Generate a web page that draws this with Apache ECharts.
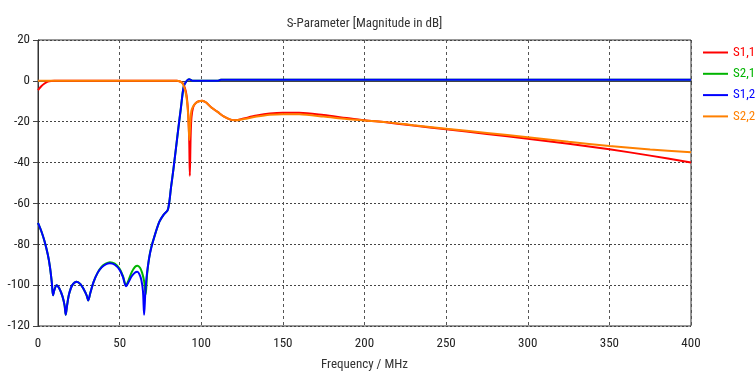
<!DOCTYPE html>
<html>
<head>
<meta charset="utf-8">
<script src="https://cdn.jsdelivr.net/npm/echarts@6/dist/echarts.min.js"></script>
<style>html,body{margin:0;padding:0;background:#fff;}#c{width:756px;height:372px;}</style>
</head>
<body>
<div id="c"></div>
<script>
var xTicks = [0, 50, 100, 150, 200, 250, 300, 350, 400];
var yTicks = [-120, -100, -80, -60, -40, -20, 0, 20];
var seriesNames = ['S1,1', 'S2,1', 'S1,2', 'S2,2'];

var s11Freq = [0,2,4,6,8,10,85,87,88.5,89.5,90.5,91.3,92,92.6,93,93.5,94,95,96.5,98.5,100.5,103,106,110,114,118,121,126,134,142,150,160,175,189,200,213,230,250,275,300,325,350,375,400];
var s11Db   = [-4.5,-2.6,-1.3,-0.4,-0.05,0,0,-0.3,-1,-2.5,-5,-9,-16,-28,-46.5,-27,-18,-13,-11,-10,-9.7,-10.6,-12.9,-15.2,-17.5,-19,-19.3,-18.4,-17,-16,-15.6,-15.6,-16.7,-18.2,-19.3,-20.3,-21.9,-23.7,-26,-28.3,-30.8,-33.5,-36.6,-40];

var s21Freq = [0,2,4,6,7.3,8.5,9.2,10,11.4,13,15,16.3,17,17.8,19,21,23.7,26,28,29.8,30.8,32,34,36.5,39,41.5,44,47,50,52,53.9,55.5,57.5,59.5,61,62.5,63.8,65,66,66.8,68,69.5,71,74.3,77,79.6,81.5,83,84.5,86,87.5,89.2,90.8,92.5,94.5,97,110,112,400];
var s21Db   = [-69.5,-73.5,-78.5,-85,-91,-99,-105,-102.5,-100,-101.5,-105.5,-110,-114.5,-110,-104.5,-100,-98.3,-99.5,-102,-105,-107.5,-104,-98.5,-94,-91,-89.5,-88.8,-89.5,-92,-95.5,-100,-97.5,-93.5,-91,-90.5,-91.5,-94,-98,-104.5,-95,-87,-81,-77,-69,-65.5,-63,-52,-43,-33,-23,-13.5,-3,-0.3,0.8,0.1,0,0,0.5,0.5];

var s12Freq = [0,2,4,6,7.3,8.5,9.2,10,11.4,13,15,16.3,17,17.8,19,21,23.7,26,28,29.8,30.8,32,34,36.5,39,41.5,44,47,50,52,53.9,55.5,57.5,59.5,60.8,62,63.3,64.3,65,65.8,66.8,68.6,71,74.3,77,79.6,81.5,83,84.5,86,87.5,89.2,90.8,92.5,94.5,97,110,112,400];
var s12Db   = [-69.5,-73.5,-78.5,-85,-91,-99,-105,-102.5,-100,-101.5,-105.5,-110,-114.5,-110,-104.5,-100,-98.3,-99.5,-102,-105,-107.5,-104,-98.5,-94,-91.3,-89.8,-89.3,-90,-92.5,-96,-100.5,-98.5,-95.5,-93.8,-93.5,-94.5,-97.5,-103,-114.5,-103,-94,-84.5,-77,-69,-65.5,-63,-52,-43,-33,-23,-13.5,-3,-0.3,0.8,0.1,0,0,0.5,0.5];

var s22Freq = [0,85,87,88.5,89.5,90.5,91.3,92,92.7,93.3,94,95,96.5,98.5,100.5,103,106,110,114,118,121,126,134,142,150,160,175,189,200,213,230,250,275,300,325,350,375,400];
var s22Db   = [0,0,-0.3,-1.2,-3,-6,-10,-17,-29,-20,-14.5,-12.5,-11,-10,-9.7,-10.6,-12.9,-15.2,-17.5,-19,-19.3,-18.7,-17.5,-16.6,-16.3,-16.4,-17.5,-18.7,-19.4,-20.2,-21.7,-23.4,-25.5,-27.6,-29.8,-31.9,-33.6,-35];

var colors = ['#ff0000', '#00b400', '#0000ff', '#ff8000'];

function pairs(f, v) { return f.map(function (x, i) { return [x, v[i]]; }); }
var allF = [s11Freq, s21Freq, s12Freq, s22Freq];
var allV = [s11Db, s21Db, s12Db, s22Db];

var FONT = '"Roboto Condensed", "DejaVu Sans Condensed", "Liberation Sans", sans-serif';
var chart = echarts.init(document.getElementById('c'), null, {renderer: 'canvas'});
chart.setOption({
  animation: false,
  backgroundColor: '#ffffff',
  title: {
    text: 'S-Parameter [Magnitude in dB]',
    left: 364.5, textAlign: 'center', top: 17, padding: 0,
    textStyle: {fontFamily: FONT, fontSize: 13, fontWeight: 'normal', color: '#333333'}
  },
  legend: {
    orient: 'vertical', left: 703, top: 46, padding: 0,
    icon: 'rect', itemWidth: 25, itemHeight: 2, itemGap: 8.3,
    data: seriesNames.map(function (n, i) {
      return {name: n, textStyle: {color: colors[i]}};
    }),
    textStyle: {fontFamily: FONT, fontSize: 13, padding: [0, 0, 0, 0]}
  },
  grid: {left: 38, right: 65, top: 40, bottom: 46, show: true, borderColor: '#333333', borderWidth: 1,
         containLabel: false, outerBoundsMode: 'none'},
  xAxis: {
    type: 'value', min: xTicks[0], max: xTicks[xTicks.length - 1], interval: 50,
    name: 'Frequency / MHz', nameLocation: 'middle', nameGap: 32.5,
    nameTextStyle: {fontFamily: FONT, fontSize: 13, color: '#333333'},
    axisLine: {show: true, lineStyle: {color: '#444444', width: 1}},
    axisTick: {show: true, length: 4, lineStyle: {color: '#444444'}},
    axisLabel: {fontFamily: FONT, fontSize: 13, color: '#222222', margin: 11},
    splitLine: {show: true, lineStyle: {color: '#555555', type: [3, 3], width: 1}}
  },
  yAxis: {
    type: 'value', min: yTicks[0], max: yTicks[yTicks.length - 1], interval: 20,
    axisLine: {show: true, lineStyle: {color: '#333333', width: 1}},
    axisTick: {show: true, length: 5, lineStyle: {color: '#444444'}},
    axisLabel: {fontFamily: FONT, fontSize: 13, color: '#222222', margin: 8},
    splitLine: {show: true, lineStyle: {color: '#444444', type: [2, 2], width: 1}}
  },
  series: seriesNames.map(function (n, i) {
    return {
      name: n, type: 'line', data: pairs(allF[i], allV[i]),
      showSymbol: false, symbol: 'none', smooth: 0.3,
      lineStyle: {color: colors[i], width: 2},
      itemStyle: {color: colors[i]}
    };
  })
});
</script>
</body>
</html>
